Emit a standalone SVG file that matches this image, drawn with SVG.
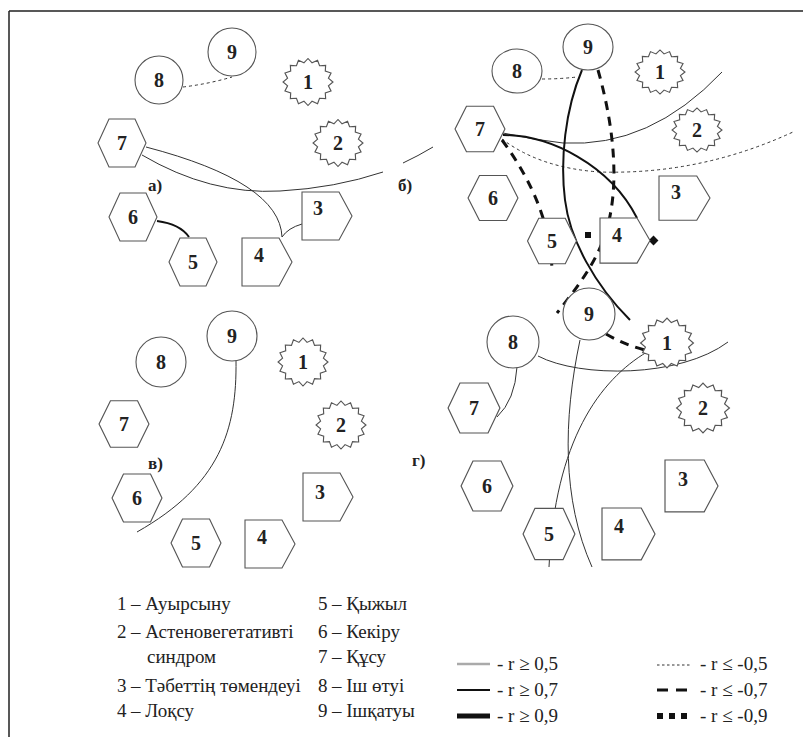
<svg xmlns="http://www.w3.org/2000/svg" xmlns:xlink="http://www.w3.org/1999/xlink" width="803" height="747" viewBox="0 0 803 747">
<style>
.n{fill:#fff;stroke:#555;stroke-width:1.1}
.t{font-family:"Liberation Serif","Tinos","DejaVu Serif",serif;font-weight:bold;font-size:20px;text-anchor:middle;fill:#222}
.pl{font-family:"Liberation Serif","Tinos","DejaVu Serif",serif;font-weight:bold;font-size:17px;fill:#222}
.lg{font-family:"Liberation Serif","Tinos","DejaVu Serif",serif;font-size:19px;fill:#222}
.thin{fill:none;stroke:#333;stroke-width:1}
.med{fill:none;stroke:#111;stroke-width:2}
.dot{fill:none;stroke:#333;stroke-width:1;stroke-dasharray:3 3}
.dash{fill:none;stroke:#111;stroke-width:3;stroke-dasharray:9 7}
</style>
<defs>
<polygon id="star" points="24,0 19.62,3.9 22.17,9.18 16.63,11.11 16.97,16.97 11.11,16.63 9.18,22.17 3.9,19.62 0,24 -3.9,19.62 -9.18,22.17 -11.11,16.63 -16.97,16.97 -16.63,11.11 -22.17,9.18 -19.62,3.9 -24,0 -19.62,-3.9 -22.17,-9.18 -16.63,-11.11 -16.97,-16.97 -11.11,-16.63 -9.18,-22.17 -3.9,-19.62 0,-24 3.9,-19.62 9.18,-22.17 11.11,-16.63 16.97,-16.97 16.63,-11.11 22.17,-9.18 19.62,-3.9"/>
<polygon id="hex" points="-24,0 -13,-24 13,-24 24,0 13,24 -13,24"/>
<polygon id="pent" points="0,0 37,0 50,24 37,48 0,48"/>
</defs>
<rect width="803" height="747" fill="#fff"/>
<path d="M9,11 H803 M9,11 V737" fill="none" stroke="#222" stroke-width="1.5"/>

<g id="connectors">
  <!-- panel a -->
  <path class="dot" d="M183,87 Q208,84 232,77"/>
  <path class="med" d="M157,221 Q180,224 189,237"/>
  <path class="thin" d="M302,224 Q288,228 282,237"/>
  <path class="thin" d="M146,147 Q280,182 282,237"/>
  <path class="thin" d="M142,155 Q210,195 280,191 Q335,188 383,172"/>
  <path class="thin" d="M403,163 Q418,156 433,147"/>
  <!-- panel b -->
  <path class="dot" d="M542,79 Q560,79 577,77"/>
  <path class="dot" d="M502,139 Q540,168 600,172 Q700,175 793,132"/>
  <path class="thin" d="M503,133 Q535,140 563,143 Q650,148 722,72"/>
  <path class="med" d="M503,135 C550,135 610,165 637,218"/>
  <path class="med" d="M582,70 C565,110 560,160 565,200 C570,240 595,285 630,320"/>
  <path class="dash" d="M598,70 C615,130 620,190 605,235 C595,265 575,290 557,313"/>
  <path class="dash" d="M502,140 Q550,205 552,270"/>
  <rect x="585" y="232" width="6" height="6" fill="#111"/>
  <rect x="650" y="237" width="7" height="7" fill="#111" transform="rotate(45 653.5 240.5)"/>
  <!-- panel v -->
  <path class="thin" d="M236,360 C237,430 220,485 137,532"/>
  <!-- panel g -->
  <path class="thin" d="M517,367 Q515,400 497,417"/>
  <path class="thin" d="M538,356 C580,378 680,378 728,342"/>
  <path class="thin" d="M580,340 C563,420 562,500 592,567"/>
  <path class="thin" d="M647,352 C600,380 555,440 549,567"/>
  <path class="dash" d="M606,334 Q625,345 645,350"/>
</g>

<g id="panel-a">
  <g id="a-n9"><circle class="n" cx="232" cy="52" r="24"/><text class="t" x="232" y="59">9</text></g>
  <g id="a-n8"><circle class="n" cx="159" cy="80" r="24"/><text class="t" x="159" y="87">8</text></g>
  <g id="a-n1"><use href="#star" class="n" transform="translate(308,82) scale(1.04,0.98)"/><text class="t" x="308" y="89">1</text></g>
  <g id="a-n2"><use href="#star" class="n" transform="translate(338,143) scale(1.04,0.98)"/><text class="t" x="338" y="150">2</text></g>
  <g id="a-n7"><use href="#hex" class="n" transform="translate(122,143)"/><text class="t" x="122" y="150">7</text></g>
  <g id="a-n6"><use href="#hex" class="n" transform="translate(133,217)"/><text class="t" x="133" y="224">6</text></g>
  <g id="a-n5"><use href="#hex" class="n" transform="translate(193,262)"/><text class="t" x="193" y="269">5</text></g>
  <g id="a-n4"><use href="#pent" class="n" transform="translate(242,238)"/><text class="t" x="259" y="262">4</text></g>
  <g id="a-n3"><use href="#pent" class="n" transform="translate(302,192)"/><text class="t" x="318" y="215">3</text></g>
  <text class="pl" x="148" y="191">а)</text>
</g>

<g id="panel-b">
  <g id="b-n9"><ellipse class="n" cx="588" cy="47" rx="25" ry="23"/><text class="t" x="588" y="54">9</text></g>
  <g id="b-n8"><ellipse class="n" cx="517" cy="71" rx="25" ry="22"/><text class="t" x="517" y="78">8</text></g>
  <g id="b-n1"><use href="#star" class="n" transform="translate(660,72) scale(1.04,0.92)"/><text class="t" x="660" y="79">1</text></g>
  <g id="b-n2"><use href="#star" class="n" transform="translate(697,130) scale(1.04,0.92)"/><text class="t" x="697" y="137">2</text></g>
  <g id="b-n7"><use href="#hex" class="n" transform="translate(480,129) scale(1.04,0.95)"/><text class="t" x="480" y="136">7</text></g>
  <g id="b-n6"><use href="#hex" class="n" transform="translate(493,198) scale(1.04,0.94)"/><text class="t" x="493" y="205">6</text></g>
  <g id="b-n5"><use href="#hex" class="n" transform="translate(552,241) scale(1.02,0.95)"/><text class="t" x="552" y="248">5</text></g>
  <g id="b-n4"><use href="#pent" class="n" transform="translate(600,218) scale(1,0.94)"/><text class="t" x="617" y="242">4</text></g>
  <g id="b-n3"><use href="#pent" class="n" transform="translate(659,176) scale(1.02,0.92)"/><text class="t" x="676" y="199">3</text></g>
  <text class="pl" x="398" y="191">б)</text>
</g>

<g id="panel-v">
  <g id="v-n9"><circle class="n" cx="232" cy="336" r="25"/><text class="t" x="232" y="343">9</text></g>
  <g id="v-n8"><circle class="n" cx="161" cy="362" r="25"/><text class="t" x="161" y="369">8</text></g>
  <g id="v-n1"><use href="#star" class="n" transform="translate(303,362) scale(1.04,1)"/><text class="t" x="303" y="369">1</text></g>
  <g id="v-n2"><use href="#star" class="n" transform="translate(341,425) scale(1.04,1)"/><text class="t" x="341" y="432">2</text></g>
  <g id="v-n7"><use href="#hex" class="n" transform="translate(124,424) scale(1.04,0.97)"/><text class="t" x="124" y="431">7</text></g>
  <g id="v-n6"><use href="#hex" class="n" transform="translate(137,498) scale(1.04,1)"/><text class="t" x="137" y="505">6</text></g>
  <g id="v-n5"><use href="#hex" class="n" transform="translate(196,543) scale(1.04,1)"/><text class="t" x="196" y="550">5</text></g>
  <g id="v-n4"><use href="#pent" class="n" transform="translate(245,520)"/><text class="t" x="262" y="544">4</text></g>
  <g id="v-n3"><use href="#pent" class="n" transform="translate(303,473)"/><text class="t" x="320" y="499">3</text></g>
  <text class="pl" x="148" y="469">в)</text>
</g>

<g id="panel-g">
  <g id="g-n9"><circle class="n" cx="589" cy="314" r="26"/><text class="t" x="589" y="321">9</text></g>
  <g id="g-n8"><circle class="n" cx="513" cy="342" r="26"/><text class="t" x="513" y="349">8</text></g>
  <g id="g-n1"><use href="#star" class="n" transform="translate(667,343) scale(1.1,1.04)"/><text class="t" x="667" y="350">1</text></g>
  <g id="g-n2"><use href="#star" class="n" transform="translate(703,408) scale(1.1,1.04)"/><text class="t" x="703" y="415">2</text></g>
  <g id="g-n7"><use href="#hex" class="n" transform="translate(474,408) scale(1.08,1.04)"/><text class="t" x="474" y="415">7</text></g>
  <g id="g-n6"><use href="#hex" class="n" transform="translate(487,486) scale(1.08,1.04)"/><text class="t" x="487" y="493">6</text></g>
  <g id="g-n5"><use href="#hex" class="n" transform="translate(549,534) scale(1.08,1.07)"/><text class="t" x="549" y="541">5</text></g>
  <g id="g-n4"><use href="#pent" class="n" transform="translate(602,508) scale(1.06,1.08)"/><text class="t" x="619" y="533">4</text></g>
  <g id="g-n3"><use href="#pent" class="n" transform="translate(665,460) scale(1.06,1.08)"/><text class="t" x="683" y="486">3</text></g>
  <text class="pl" x="412" y="466">г)</text>
</g>

<g id="legend">
  <text class="lg" x="117" y="610">1</text><text class="lg" x="131" y="610">– Ауырсыну</text>
  <text class="lg" x="117" y="638">2</text><text class="lg" x="131" y="638">– Астеновегетативті</text>
  <text class="lg" x="147" y="663">синдром</text>
  <text class="lg" x="117" y="692">3</text><text class="lg" x="131" y="692">– Тәбеттің төмендеуі</text>
  <text class="lg" x="117" y="717">4</text><text class="lg" x="131" y="717">– Лоқсу</text>
  <text class="lg" x="318" y="610">5</text><text class="lg" x="332" y="610">– Қыжыл</text>
  <text class="lg" x="318" y="638">6</text><text class="lg" x="332" y="638">– Кекіру</text>
  <text class="lg" x="318" y="663">7</text><text class="lg" x="332" y="663">– Құсу</text>
  <text class="lg" x="318" y="692">8</text><text class="lg" x="332" y="692">– Іш өтуі</text>
  <text class="lg" x="318" y="717">9</text><text class="lg" x="332" y="717">– Ішқатуы</text>
  <line x1="457" y1="664" x2="490" y2="664" stroke="#aaa" stroke-width="2.5"/>
  <line x1="457" y1="690" x2="490" y2="690" stroke="#111" stroke-width="2"/>
  <line x1="457" y1="716" x2="490" y2="716" stroke="#111" stroke-width="5"/>
  <text class="lg" x="497" y="670">- r ≥ 0,5</text>
  <text class="lg" x="497" y="696">- r ≥ 0,7</text>
  <text class="lg" x="497" y="722">- r ≥ 0,9</text>
  <line x1="657" y1="665" x2="690" y2="665" stroke="#333" stroke-width="1.2" stroke-dasharray="2.5 2.5"/>
  <line x1="657" y1="690" x2="690" y2="690" stroke="#111" stroke-width="3" stroke-dasharray="11 8"/>
  <line x1="657" y1="716" x2="690" y2="716" stroke="#111" stroke-width="6" stroke-dasharray="6 6"/>
  <text class="lg" x="700" y="670">- r ≤ -0,5</text>
  <text class="lg" x="700" y="696">- r ≤ -0,7</text>
  <text class="lg" x="700" y="722">- r ≤ -0,9</text>
</g>
</svg>
